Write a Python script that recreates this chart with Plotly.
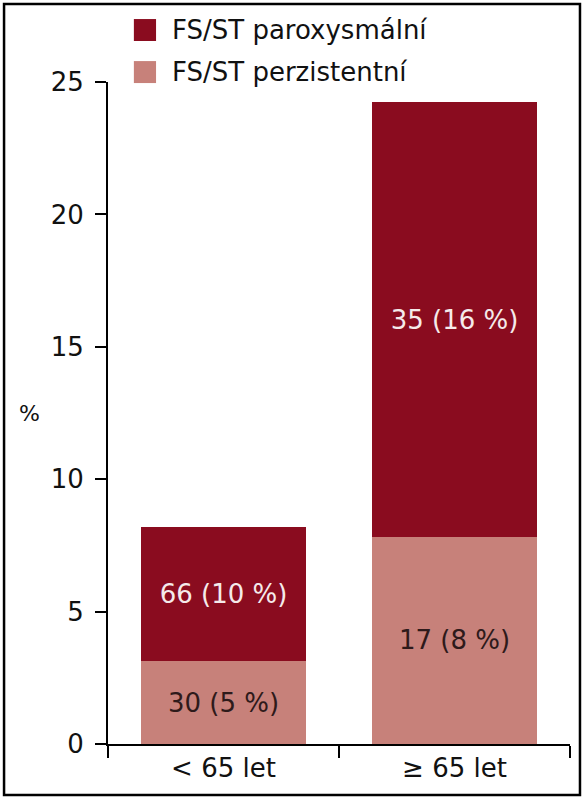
"""Stacked bar chart: FS/ST paroxysmální vs. perzistentní by age group."""

import plotly.graph_objects as go

# Data
categories = ["< 65 let", "≥ 65 let"]
perzistentni = [3.13, 7.82]
paroxysmalni = [5.06, 16.42]
perzistentni_labels = ["30 (5 %)", "17 (8 %)"]
paroxysmalni_labels = ["66 (10 %)", "35 (16 %)"]
y_ticks = [0, 5, 10, 15, 20, 25]

DARK = "#8a0c1f"
LIGHT = "#c7817a"
FONT = "DejaVu Sans, Noto Sans, sans-serif"
SIZE = 26

fig = go.Figure()

fig.add_trace(
    go.Bar(
        x=categories,
        y=perzistentni,
        name="FS/ST perzistentní",
        marker=dict(color=LIGHT, line_width=0),
        text=perzistentni_labels,
        textposition="inside",
        insidetextanchor="middle",
        textfont=dict(color="#2e1a1a", size=SIZE, family=FONT),
        hoverinfo="skip",
    )
)
fig.add_trace(
    go.Bar(
        x=categories,
        y=paroxysmalni,
        name="FS/ST paroxysmální",
        marker=dict(color=DARK, line_width=0),
        text=paroxysmalni_labels,
        textposition="inside",
        insidetextanchor="middle",
        textfont=dict(color="#f5eaea", size=SIZE, family=FONT),
        hoverinfo="skip",
    )
)

# hand-made legend (bigger swatches than plotly's own)
legend_items = [("FS/ST paroxysmální", DARK, 1.0785), ("FS/ST perzistentní", LIGHT, 1.015)]
shapes = []
annotations = []
for label, color, yc in legend_items:
    shapes.append(
        dict(
            type="rect", xref="paper", yref="paper",
            x0=0.056, x1=0.104, y0=yc - 0.0166, y1=yc + 0.0166,
            fillcolor=color, line_width=0,
        )
    )
    annotations.append(
        dict(
            text=label, xref="paper", yref="paper", x=0.135, y=yc,
            xanchor="left", yanchor="middle", showarrow=False,
            font=dict(size=SIZE, color="#111111", family=FONT),
        )
    )

# outer frame
shapes.append(
    dict(
        type="rect", xref="paper", yref="paper",
        x0=-0.225, x1=1.0216, y0=-0.077, y1=1.1178,
        line=dict(color="black", width=2.5), fillcolor="rgba(0,0,0,0)",
    )
)

# unrotated "%" axis title
annotations.append(
    dict(
        text="%", xref="paper", yref="paper", x=-0.169, y=0.5,
        xanchor="center", yanchor="middle", showarrow=False,
        font=dict(size=22, color="#111111", family=FONT),
    )
)

fig.update_layout(
    barmode="stack",
    bargap=0.286,
    width=585,
    height=800,
    margin=dict(l=108, r=15, t=82, b=56),
    plot_bgcolor="white",
    paper_bgcolor="white",
    showlegend=False,
    font=dict(family=FONT, size=SIZE, color="#111111"),
    shapes=shapes,
    annotations=annotations,
    uniformtext=dict(mode="show", minsize=SIZE),
    xaxis=dict(
        showline=True, linecolor="black", linewidth=2,
        ticks="outside", ticklen=12, tickwidth=2, tickcolor="black",
        tickson="boundaries", showgrid=False,
        tickfont=dict(size=SIZE, family=FONT, color="#111111"),
    ),
    yaxis=dict(
        range=[0, 25], tickvals=y_ticks,
        showline=True, linecolor="black", linewidth=2,
        ticks="outside", ticklen=11, tickwidth=2, tickcolor="black",
        showgrid=False, zeroline=False, ticklabelstandoff=6,
        tickfont=dict(size=SIZE, family=FONT, color="#111111"),
    ),
)

# drop the default 8px body margin so the figure fills the window exactly
fig.write_html(
    "out.html",
    config={"displayModeBar": False},
    post_script="document.body.style.margin = '0';",
)
